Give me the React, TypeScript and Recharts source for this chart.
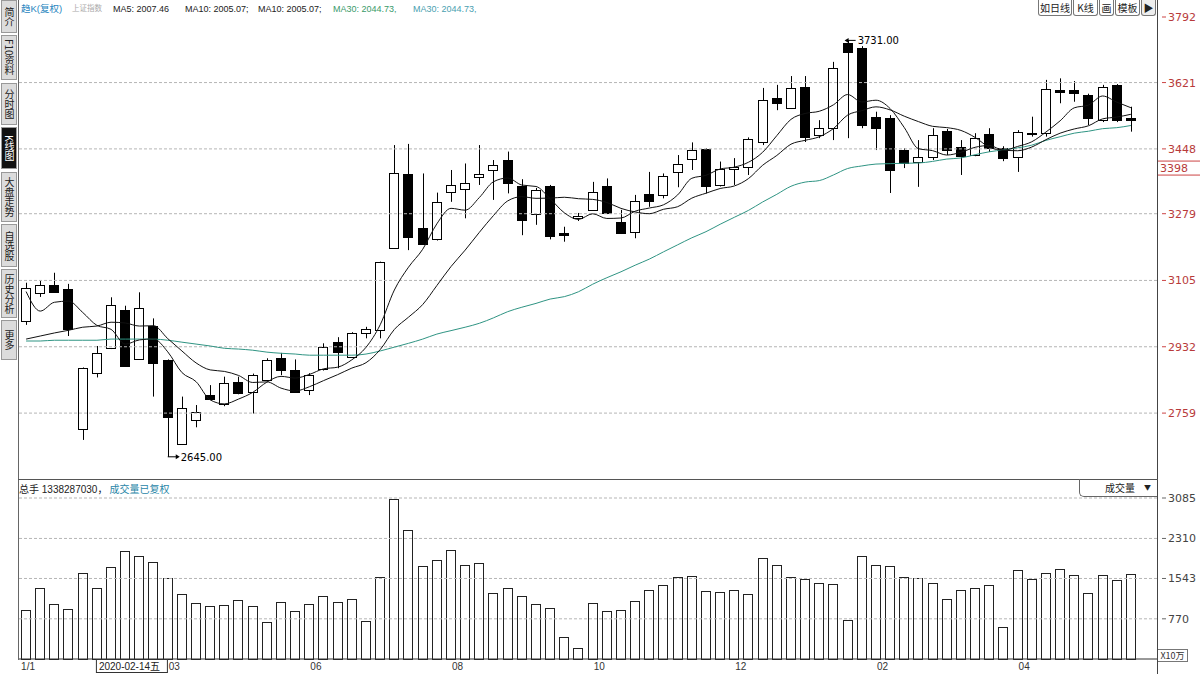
import React from 'react';
import { ComposedChart, Bar, Line, XAxis, YAxis, ReferenceLine, ReferenceDot } from 'recharts';

// ---------- data (weekly candles) ----------
const opens = [3000, 3073, 3093, 3082, 2717, 2863, 2928, 3028, 2900, 2986,
  2897, 2678, 2741, 2806, 2784, 2841, 2815, 2845, 2902, 2871,
  2819, 2873, 2944, 2906, 2969, 2976, 3190, 3382, 3243, 3213,
  3335, 3343, 3375, 3393, 3419, 3352, 3278, 3351, 3229, 3268,
  3289, 3352, 3258, 3230, 3330, 3328, 3387, 3422, 3448, 3353,
  3395, 3402, 3466, 3581, 3555, 3609, 3484, 3502, 3725, 3711,
  3531, 3529, 3445, 3414, 3427, 3495, 3453, 3432, 3487, 3450,
  3428, 3487, 3490, 3602, 3602, 3589, 3523, 3615, 3528];
const closes = [3084, 3093, 3075, 2979, 2876, 2916, 3041, 2882, 3034, 2889,
  2748, 2771, 2763, 2796, 2837, 2811, 2858, 2897, 2871, 2815,
  2858, 2931, 2919, 2967, 2978, 3152, 3384, 3217, 3200, 3310,
  3354, 3360, 3382, 3406, 3358, 3263, 3341, 3222, 3223, 3272,
  3336, 3280, 3228, 3312, 3313, 3378, 3409, 3445, 3351, 3395,
  3402, 3473, 3575, 3568, 3607, 3479, 3502, 3659, 3702, 3510,
  3502, 3393, 3411, 3427, 3484, 3445, 3429, 3476, 3450, 3424,
  3493, 3490, 3603, 3596, 3594, 3528, 3609, 3523, 3523];
const highs = [3099, 3104, 3125, 3096, 2878, 2934, 3061, 3039, 3074, 3006,
  2899, 2802, 2780, 2832, 2854, 2854, 2862, 2902, 2916, 2899,
  2863, 2941, 2957, 2970, 2984, 3154, 3458, 3461, 3384, 3334,
  3393, 3410, 3458, 3419, 3441, 3369, 3346, 3354, 3245, 3281,
  3362, 3371, 3289, 3328, 3388, 3384, 3432, 3465, 3450, 3415,
  3424, 3478, 3607, 3615, 3638, 3638, 3523, 3675, 3731, 3716,
  3545, 3536, 3450, 3471, 3502, 3500, 3471, 3489, 3502, 3455,
  3497, 3532, 3628, 3632, 3625, 3592, 3615, 3617, 3558];
const lows = [2989, 3062, 3073, 2960, 2689, 2852, 2926, 2880, 2898, 2802,
  2645, 2676, 2722, 2793, 2777, 2808, 2758, 2842, 2858, 2812,
  2806, 2870, 2876, 2903, 2954, 2954, 3188, 3184, 3198, 3209,
  3310, 3267, 3354, 3315, 3332, 3223, 3250, 3212, 3206, 3260,
  3287, 3278, 3226, 3215, 3297, 3319, 3348, 3393, 3332, 3350,
  3354, 3380, 3458, 3549, 3552, 3466, 3476, 3471, 3476, 3502,
  3445, 3333, 3398, 3349, 3419, 3432, 3380, 3429, 3440, 3416,
  3388, 3480, 3480, 3567, 3571, 3510, 3518, 3518, 3493];
const volumes = [936, 1356, 1050, 955, 1643, 1356, 1757, 2063, 1967, 1853,
  1547, 1242, 1070, 1012, 1031, 1127, 1012, 707, 1089, 917,
  1050, 1203, 1089, 1146, 726, 1566, 3075, 2464, 1776, 1891,
  2082, 1795, 1834, 1261, 1356, 1203, 1050, 974, 420, 210,
  1070, 917, 936, 1108, 1318, 1413, 1566, 1585, 1299, 1280,
  1318, 1242, 1929, 1795, 1566, 1528, 1452, 1433, 745, 1967,
  1795, 1776, 1566, 1547, 1452, 1146, 1318, 1356, 1413, 611,
  1700, 1528, 1643, 1725, 1604, 1261, 1610, 1509, 1629];
// moving-average values read off the picture where earlier weeks are not shown
const ma5Lead = [3076, 3025, 3048, 3051];
const ma10Lead = [2952, 2960, 2968, 2975, 2983, 2986, 2996, 2994, 2986];
const ma30Lead = [2947, 2947, 2949, 2949, 2949, 2949, 2952, 2952, 2952, 2952,
  2949, 2944, 2939, 2934, 2928, 2926, 2923, 2918, 2915, 2913,
  2910, 2910, 2910, 2910, 2913, 2921, 2931, 2941, 2952];

const priceTicks = [2759, 2932, 3105, 3279, 3448, 3621, 3792];
const priceDomain = [2613.2, 3792];
const markerPrice = 3398;
const markerLabel = '3398';
const volumeTicks = [770, 1543, 2310, 3085];
const volumeDomain = [0, 3085];
const dateTicks = [0, 5, 10, 20, 30, 40, 50, 60, 70];
const dateLabels = ['1/1', '2020-02-14五', '03', '06', '08', '10', '12', '02', '04'];
const maxIdx = 58;
const minIdx = 10;

const movingAvg = (n: number, lead: number[]) => closes.map((_, i) => {
  if (i < lead.length) return lead[i];
  let s = 0;
  for (let k = i - n + 1; k <= i; k++) s += closes[k];
  return s / n;
});
const ma5 = movingAvg(5, ma5Lead);
const ma10 = movingAvg(10, ma10Lead);
const ma30 = movingAvg(30, ma30Lead);

const data = opens.map((o, i) => ({
  idx: i, open: o, close: closes[i], high: highs[i], low: lows[i],
  range: [lows[i], highs[i]], vol: volumes[i], ma5: ma5[i], ma10: ma10[i], ma30: ma30[i],
}));

const FONT = "'DejaVu Sans', 'Noto Sans CJK SC', sans-serif";
const SMALL = "'Liberation Sans', 'Noto Sans CJK SC', sans-serif";
const CJK = "'Noto Sans CJK SC', 'DejaVu Sans', sans-serif";
const W = 1200;
const PAD = { left: 1, right: 19 };

const Candle = (props: any) => {
  const { x, y, width, height, payload } = props;
  if (!payload) return null;
  const top = Math.min(y, y + height);
  const h = Math.abs(height);
  const { open, close, high, low } = payload;
  const ratio = h / Math.max(high - low, 0.0001);
  const yOf = (v: number) => top + (high - v) * ratio;
  const cx = Math.round(x + width / 2) + 0.5;
  const bTop = Math.round(yOf(Math.max(open, close))) + 0.5;
  const bBot = Math.max(Math.round(yOf(Math.min(open, close))) + 0.5, bTop + 1);
  const up = close >= open;
  const left = Math.round(x) + 0.5;
  const bw = Math.round(width) - 1;
  return (
    <g>
      <line x1={cx} x2={cx} y1={top} y2={bTop} stroke="#000" strokeWidth={1} />
      <line x1={cx} x2={cx} y1={bBot} y2={top + h} stroke="#000" strokeWidth={1} />
      <rect x={left} y={bTop} width={bw} height={bBot - bTop} fill={up ? '#fff' : '#000'} stroke="#000" strokeWidth={1} />
    </g>
  );
};

const VolBar = (props: any) => {
  const { x, y, width, height } = props;
  if (height == null) return null;
  return <rect x={Math.round(x) + 0.5} y={Math.round(y) + 0.5} width={Math.round(width) - 1} height={Math.round(height)} fill="#fff" stroke="#222" strokeWidth={1} />;
};

const PriceTick = (props: any) => {
  const { x, y, payload } = props;
  return (
    <g>
      <line x1={x - 3} x2={x + 1} y1={y} y2={y} stroke="#c44" />
      <text x={x + 3} y={y + 4} fill="#b83a3a" fontSize={11} fontFamily={FONT}>{payload.value}</text>
    </g>
  );
};

const VolTick = (props: any) => {
  const { x, y, payload } = props;
  return (
    <g>
      <line x1={x - 3} x2={x + 1} y1={y} y2={y} stroke="#666" />
      <text x={x + 3} y={y + 4} fill="#444" fontSize={11} fontFamily={FONT}>{payload.value}</text>
    </g>
  );
};

const DateTick = (props: any) => {
  const { x, y, payload } = props;
  const k = dateTicks.indexOf(payload.value);
  if (k < 0) return null;
  const label = dateLabels[k];
  const base = y - 8; // axis line position
  if (label.length > 4) {
    return (
      <g>
        <rect x={x - 0.5} y={base + 0.5} width={71} height={13} fill="#fff" stroke="#333" />
        <text x={x + 2} y={base + 11} fontSize={10} fill="#222" fontFamily={SMALL}>{label}</text>
      </g>
    );
  }
  return <text x={x + (k === 0 ? -5 : 1)} y={base + 11} fontSize={10} fill="#333" fontFamily={SMALL}>{label}</text>;
};

const MaxMark = (props: any) => {
  const { cx, cy } = props;
  return (
    <g>
      <line x1={cx - 2} x2={cx + 8} y1={cy} y2={cy} stroke="#000" />
      <path d={`M${cx - 3},${cy} l4,-2.5 l0,5 z`} fill="#000" />
      <text x={cx + 10} y={cy + 4} fontSize={10} fill="#000" fontFamily={FONT}>{highs[maxIdx].toFixed(2)}</text>
    </g>
  );
};

const MinMark = (props: any) => {
  const { cx, cy } = props;
  return (
    <g>
      <line x1={cx} x2={cx + 10} y1={cy} y2={cy} stroke="#000" />
      <path d={`M${cx + 12},${cy} l-4,-2.5 l0,5 z`} fill="#000" />
      <text x={cx + 13} y={cy + 4} fontSize={10} fill="#000" fontFamily={FONT}>{lows[minIdx].toFixed(2)}</text>
    </g>
  );
};

const MarkerTick = (props: any) => {
  const { viewBox } = props;
  if (!viewBox) return null;
  const x0 = viewBox.x + viewBox.width;
  const yy = viewBox.y;
  return (
    <g>
      <line x1={x0} x2={W} y1={yy - 7} y2={yy - 7} stroke="#c44" />
      <line x1={x0} x2={W} y1={yy + 7} y2={yy + 7} stroke="#c44" />
      <text x={x0 + 3} y={yy + 4} fill="#b83a3a" fontSize={11} fontFamily={FONT}>{markerLabel}</text>
    </g>
  );
};

const tabs = [
  { t: '简介', y: 0, h: 33, dark: false },
  { t: 'F10资料', y: 35, h: 45, dark: false },
  { t: '分时图', y: 83, h: 42, dark: false },
  { t: 'K线图', y: 127, h: 42, dark: true },
  { t: '大盘走势', y: 172, h: 50, dark: false },
  { t: '自选股', y: 224, h: 43, dark: false },
  { t: '历史分析', y: 269, h: 49, dark: false },
  { t: '更多', y: 320, h: 40, dark: false },
];

const topButtons = [
  { t: '如日线', x: 1038, w: 34 },
  { t: 'K线', x: 1073, w: 25 },
  { t: '画', x: 1099, w: 15 },
  { t: '模板', x: 1115, w: 25 },
  { t: '▶', x: 1141, w: 15 },
];

const header = [
  { t: '趋K(复权)', x: 21, c: '#2a86c0', s: 9.5 },
  { t: '上证指数', x: 72, c: '#aaa', s: 7.5 },
  { t: 'MA5: 2007.46', x: 113, c: '#222', s: 9 },
  { t: 'MA10: 2005.07;', x: 185, c: '#222', s: 9 },
  { t: 'MA10: 2005.07;', x: 258, c: '#222', s: 9 },
  { t: 'MA30: 2044.73,', x: 333, c: '#3a9a6a', s: 9 },
  { t: 'MA30: 2044.73,', x: 413, c: '#4aa0b0', s: 9 },
];

export default function App() {
  return (
    <div style={{ position: 'absolute', left: 0, top: 0, width: W, height: 674, background: '#fff', overflow: 'hidden', fontFamily: FONT }}>
      {/* price panel */}
      <div style={{ position: 'absolute', left: 0, top: 0 }}>
        <ComposedChart width={W} height={478} data={data} margin={{ top: 17, right: 0, bottom: 9, left: 18 }}>
          <XAxis dataKey="idx" hide padding={PAD} />
          <YAxis orientation="right" width={43} domain={priceDomain} ticks={priceTicks} tick={<PriceTick />} tickLine={false} axisLine={false} allowDataOverflow interval={0} />
          {priceTicks.slice(0, -1).map((v) => (
            <ReferenceLine key={v} y={v} stroke="#b5b5b5" strokeDasharray="3 2" ifOverflow="visible" />
          ))}
          <ReferenceLine y={markerPrice} stroke="none" label={<MarkerTick />} ifOverflow="visible" />
          <Bar dataKey="range" barSize={10} shape={<Candle />} isAnimationActive={false} />
          <Line dataKey="ma30" type="monotone" stroke="#2f9483" strokeWidth={1} dot={false} isAnimationActive={false} />
          <Line dataKey="ma10" type="monotone" stroke="#111" strokeWidth={1} dot={false} isAnimationActive={false} />
          <Line dataKey="ma5" type="monotone" stroke="#111" strokeWidth={1} dot={false} isAnimationActive={false} />
          <ReferenceDot x={maxIdx} y={highs[maxIdx]} shape={<MaxMark />} ifOverflow="visible" />
          <ReferenceDot x={minIdx} y={lows[minIdx]} shape={<MinMark />} ifOverflow="visible" />
        </ComposedChart>
      </div>

      {/* volume panel */}
      <div style={{ position: 'absolute', left: 0, top: 478 }}>
        <ComposedChart width={W} height={196} data={data} margin={{ top: 20, right: 0, bottom: 0, left: 18 }}>
          <XAxis dataKey="idx" padding={PAD} height={15} ticks={dateTicks} interval={0} tick={<DateTick />} tickLine={false} axisLine={{ stroke: '#333' }} />
          <YAxis orientation="right" width={43} domain={volumeDomain} ticks={volumeTicks} tick={<VolTick />} tickLine={false} axisLine={false} interval={0} />
          {volumeTicks.map((v) => (
            <ReferenceLine key={v} y={v} stroke="#b5b5b5" strokeDasharray="3 2" ifOverflow="visible" />
          ))}
          <Bar dataKey="vol" barSize={10} shape={<VolBar />} isAnimationActive={false} />
        </ComposedChart>
      </div>

      {/* frame lines */}
      <div style={{ position: 'absolute', left: 18, top: 0, width: 1, height: 660, background: '#666' }} />
      <div style={{ position: 'absolute', left: 1157, top: 0, width: 1, height: 674, background: '#444' }} />
      <div style={{ position: 'absolute', left: 18, top: 479, width: 1140, height: 1, background: '#555' }} />

      {/* header */}
      {header.map((h, i) => (
        <span key={i} style={{ position: 'absolute', left: h.x, top: 3, fontSize: h.s, lineHeight: '12px', color: h.c, fontFamily: SMALL, whiteSpace: 'nowrap' }}>{h.t}</span>
      ))}
      {topButtons.map((b, i) => (
        <div key={i} style={{ position: 'absolute', left: b.x, top: 0, width: b.w, height: 16, border: '1px solid #777', borderTop: 'none', borderRadius: '0 0 3px 3px', background: i === 4 ? '#eee' : '#fff', fontSize: 10, lineHeight: '15px', textAlign: 'center', color: '#222', fontFamily: CJK, boxSizing: 'border-box' }}>{b.t}</div>
      ))}

      {/* left tabs */}
      {tabs.map((t, i) => (
        <div key={i} style={{ position: 'absolute', left: 1, top: t.y, width: 16, height: t.h, background: t.dark ? '#111' : '#dcdcdc', color: t.dark ? '#fff' : '#222', border: '1px solid #999', boxSizing: 'border-box', fontSize: 10, fontFamily: CJK, writingMode: 'vertical-rl', display: 'flex', alignItems: 'center', justifyContent: 'center', lineHeight: '14px', overflow: 'hidden' }}>{t.t}</div>
      ))}

      {/* volume panel header */}
      <div style={{ position: 'absolute', left: 19, top: 484, fontSize: 10, lineHeight: '12px', fontFamily: SMALL, whiteSpace: 'nowrap' }}>
        <span style={{ color: '#222' }}>总手 1338287030，</span>
        <span style={{ color: '#2a86a8', marginLeft: 2 }}>成交量已复权</span>
      </div>
      <div style={{ position: 'absolute', left: 1079, top: 479, width: 78, height: 18, border: '1px solid #666', borderTop: 'none', borderRight: 'none', borderRadius: '0 0 0 5px', boxSizing: 'border-box', fontSize: 10, lineHeight: '17px', fontFamily: CJK, color: '#222' }}>
        <span style={{ position: 'absolute', left: 25 }}>成交量</span>
        <span style={{ position: 'absolute', right: 6, fontSize: 7 }}>▼</span>
      </div>
      <div style={{ position: 'absolute', left: 1158, top: 649, width: 30, height: 13, border: '1px solid #777', borderLeft: 'none', boxSizing: 'border-box', fontSize: 9, lineHeight: '12px', fontFamily: CJK, color: '#333', textAlign: 'center' }}>X10万</div>
    </div>
  );
}
